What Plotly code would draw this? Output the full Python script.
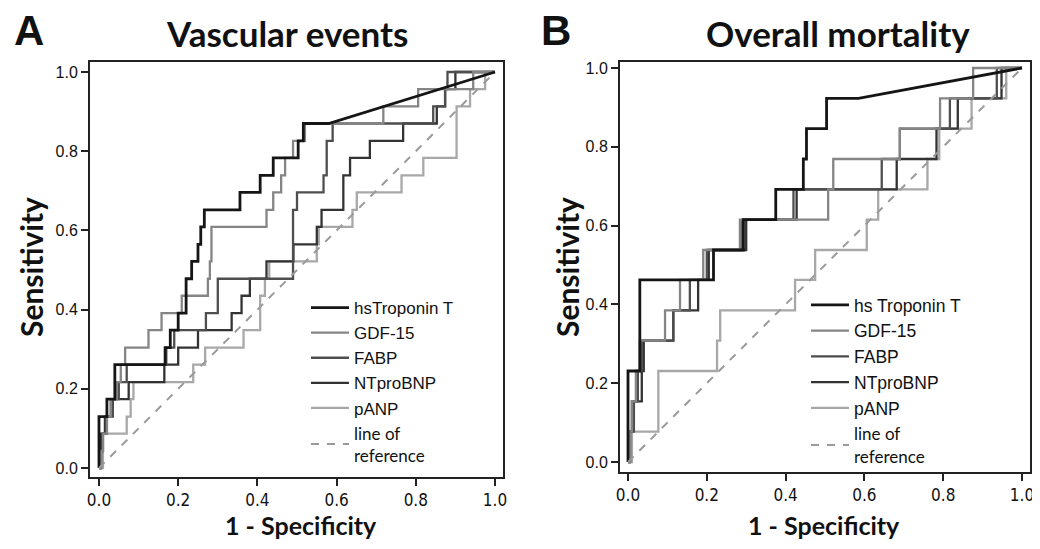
import plotly.graph_objects as go

# ---------------- data: ROC risers (1 - specificity where curve rises, sensitivity reached) ----
# Panel A: Vascular events
a_tnt_fpr = [0.0, 0.02, 0.04, 0.167, 0.18, 0.20, 0.22, 0.234, 0.25, 0.257, 0.266, 0.356, 0.407, 0.44, 0.503, 0.516, 0.58]
a_tnt_sens = [0.130, 0.174, 0.261, 0.304, 0.348, 0.391, 0.478, 0.522, 0.565, 0.609, 0.652, 0.696, 0.739, 0.783, 0.826, 0.870, 0.870]

a_gdf_fpr = [0.005, 0.01, 0.02, 0.03, 0.045, 0.055, 0.066, 0.125, 0.158, 0.209, 0.275, 0.28, 0.284, 0.423, 0.44, 0.46, 0.47, 0.49, 0.52, 0.718, 0.806, 0.945]
a_gdf_sens = [0.043, 0.087, 0.130, 0.174, 0.217, 0.261, 0.304, 0.348, 0.391, 0.435, 0.478, 0.522, 0.609, 0.652, 0.696, 0.739, 0.783, 0.826, 0.870, 0.913, 0.957, 1.0]

a_fabp_fpr = [0.005, 0.01, 0.02, 0.035, 0.05, 0.07, 0.17, 0.19, 0.27, 0.30, 0.30, 0.49, 0.50, 0.567, 0.575, 0.59, 0.844, 0.874, 0.88]
a_fabp_sens = [0.043, 0.087, 0.130, 0.174, 0.217, 0.261, 0.304, 0.348, 0.391, 0.435, 0.478, 0.652, 0.696, 0.739, 0.826, 0.870, 0.913, 0.957, 1.0]

a_ntp_fpr = [0.005, 0.015, 0.03, 0.075, 0.165, 0.20, 0.25, 0.335, 0.36, 0.381, 0.423, 0.491, 0.55, 0.562, 0.617, 0.617, 0.634, 0.684, 0.768, 0.853, 0.874, 0.90]
a_ntp_sens = [0.087, 0.130, 0.174, 0.217, 0.261, 0.304, 0.348, 0.391, 0.435, 0.478, 0.522, 0.565, 0.609, 0.652, 0.696, 0.739, 0.783, 0.826, 0.870, 0.913, 0.957, 1.0]

a_panp_fpr = [0.01, 0.07, 0.08, 0.087, 0.238, 0.268, 0.365, 0.407, 0.419, 0.43, 0.55, 0.555, 0.64, 0.651, 0.764, 0.819, 0.903, 0.937, 0.975]
a_panp_sens = [0.087, 0.130, 0.174, 0.217, 0.261, 0.304, 0.348, 0.435, 0.478, 0.522, 0.565, 0.609, 0.652, 0.696, 0.739, 0.783, 0.913, 0.957, 1.0]

# Panel B: Overall mortality
b_tnt_fpr = [0.0, 0.03, 0.03, 0.217, 0.293, 0.375, 0.445, 0.453, 0.504, 0.585]
b_tnt_sens = [0.231, 0.385, 0.462, 0.538, 0.615, 0.692, 0.769, 0.846, 0.923, 0.923]

b_gdf_fpr = [0.005, 0.01, 0.02, 0.03, 0.094, 0.132, 0.191, 0.284, 0.508, 0.521, 0.69, 0.792, 0.876]
b_gdf_sens = [0.077, 0.154, 0.231, 0.308, 0.385, 0.462, 0.538, 0.615, 0.692, 0.769, 0.846, 0.923, 1.0]

b_fabp_fpr = [0.005, 0.015, 0.025, 0.035, 0.115, 0.157, 0.20, 0.29, 0.42, 0.644, 0.69, 0.817, 0.936]
b_fabp_sens = [0.077, 0.154, 0.231, 0.308, 0.385, 0.462, 0.538, 0.615, 0.692, 0.769, 0.846, 0.923, 1.0]

b_ntp_fpr = [0.005, 0.01, 0.035, 0.04, 0.115, 0.178, 0.205, 0.30, 0.428, 0.682, 0.783, 0.837, 0.948]
b_ntp_sens = [0.077, 0.154, 0.231, 0.308, 0.385, 0.462, 0.538, 0.615, 0.692, 0.769, 0.846, 0.923, 1.0]

b_panp_fpr = [0.01, 0.077, 0.077, 0.226, 0.234, 0.424, 0.475, 0.606, 0.635, 0.76, 0.79, 0.872, 0.96]
b_panp_sens = [0.077, 0.154, 0.231, 0.308, 0.385, 0.462, 0.538, 0.615, 0.692, 0.769, 0.846, 0.923, 1.0]

ref_line = [0.0, 1.0]
tick_vals = [0.0, 0.2, 0.4, 0.6, 0.8, 1.0]
tick_text = ["0.0", "0.2", "0.4", "0.6", "0.8", "1.0"]

names_a = ["hsTroponin T", "GDF-15", "FABP", "NTproBNP", "pANP"]
names_b = ["hs Troponin T", "GDF-15", "FABP", "NTproBNP", "pANP"]
ref_name = "line of<br>reference"


def roc_path(fpr, sens, diagonal_end=False):
    xs, ys = [0.0], [0.0]
    for f, s in zip(fpr, sens):
        if f != xs[-1]:
            xs.append(f)
            ys.append(ys[-1])
        xs.append(f)
        ys.append(s)
    if diagonal_end or xs[-1] < 1.0:
        xs.append(1.0)
        ys.append(1.0)
    return xs, ys


styles = [
    dict(color="#151515", width=2.8),
    dict(color="#858585", width=2.3),
    dict(color="#4e4e4e", width=2.3),
    dict(color="#333333", width=2.3),
    dict(color="#a8a8a8", width=2.3),
]

fig = go.Figure()

panels = [
    ("x", "y", "legend", names_a,
     [(a_tnt_fpr, a_tnt_sens, True), (a_gdf_fpr, a_gdf_sens, False), (a_fabp_fpr, a_fabp_sens, False),
      (a_ntp_fpr, a_ntp_sens, False), (a_panp_fpr, a_panp_sens, False)]),
    ("x2", "y2", "legend2", names_b,
     [(b_tnt_fpr, b_tnt_sens, True), (b_gdf_fpr, b_gdf_sens, False), (b_fabp_fpr, b_fabp_sens, False),
      (b_ntp_fpr, b_ntp_sens, False), (b_panp_fpr, b_panp_sens, False)]),
]

for xa, ya, lg, names, curves in panels:
    for i in range(len(curves) - 1, -1, -1):
        f, s, d = curves[i]
        xs, ys = roc_path(f, s, d)
        fig.add_trace(go.Scatter(x=xs, y=ys, mode="lines", name=names[i], line=styles[i],
                                 xaxis=xa, yaxis=ya, legend=lg, legendrank=i + 1))
    fig.add_trace(go.Scatter(x=ref_line, y=ref_line, mode="lines",
                             name='<span style="font-family:Lato;font-size:17px">' + ref_name + '</span>',
                             line=dict(color="#9a9a9a", width=2, dash="8px,8px"),
                             xaxis=xa, yaxis=ya, legend=lg, legendrank=10))

# The page body has an 8px margin, so the figure is drawn 8px right/down of the window corner.
OFF = 8
W, H = 1040 - OFF, 549 - 2 * OFF


def px_x(p):
    return (p - OFF) / W


def px_y(p):
    return 1 - (p - OFF) / H


axis_common = dict(showline=True, linecolor="#222", linewidth=2, mirror=True, ticks="outside",
                   ticklen=7, tickwidth=2, tickcolor="#222", showgrid=False, zeroline=False,
                   tickvals=tick_vals, ticktext=tick_text, automargin=False)

xfont = dict(family="Liberation Sans Narrow, DejaVu Sans Condensed, Arial Narrow, sans-serif", size=17, color="#111")
yfont = dict(family="Liberation Sans, Arial, sans-serif", size=16, color="#111")

fig.update_layout(
    width=W, height=H, margin=dict(l=0, r=0, t=0, b=0, pad=0, autoexpand=False),
    paper_bgcolor="white", plot_bgcolor="white",
    xaxis=dict(domain=[px_x(90), px_x(503)], range=[-0.0227, 1.0202], anchor="y", tickfont=xfont, **axis_common),
    yaxis=dict(domain=[px_y(477), px_y(62)], range=[-0.0227, 1.0253], anchor="x", tickfont=yfont, **axis_common),
    xaxis2=dict(domain=[px_x(620), px_x(1030)], range=[-0.0203, 1.0203], anchor="y2", tickfont=xfont, **axis_common),
    yaxis2=dict(domain=[px_y(472), px_y(62)], range=[-0.0254, 1.0152], anchor="x2", tickfont=yfont, **axis_common),
    legend=dict(x=px_x(306), y=px_y(290), xanchor="left", yanchor="top", bgcolor="rgba(0,0,0,0)",
                font=dict(family="Liberation Sans, Arial, sans-serif", size=17, color="#111"),
                itemwidth=38, tracegroupgap=0, traceorder="normal"),
    legend2=dict(x=px_x(806), y=px_y(287), xanchor="left", yanchor="top", bgcolor="rgba(0,0,0,0)",
                 font=dict(family="Liberation Sans, Arial, sans-serif", size=17.5, color="#111"),
                 itemwidth=38, tracegroupgap=0, traceorder="normal"),
    showlegend=True,
)

title_font = dict(family="Lato, Open Sans, sans-serif", size=35, color="#111")
letter_font = dict(family="Liberation Sans, Arial, sans-serif", size=42, color="#111")
axis_title_font = dict(family="Lato, Open Sans, sans-serif", size=25, color="#111")
ylab_font = dict(family="Lato, Open Sans, sans-serif", size=30, color="#111")

annots = [
    dict(text="<b>A</b>", x=px_x(29), y=px_y(31), font=letter_font),
    dict(text="<b>Vascular events</b>", x=px_x(287), y=px_y(33), font=title_font),
    dict(text="<b>B</b>", x=px_x(556), y=px_y(31), font=letter_font),
    dict(text="<b>Overall mortality</b>", x=px_x(838), y=px_y(33), font=title_font),
    dict(text="<b>Sensitivity</b>", x=px_x(31), y=px_y(267), font=ylab_font, textangle=-90),
    dict(text="<b>Sensitivity</b>", x=px_x(567), y=px_y(267), font=ylab_font, textangle=-90),
    dict(text="<b>1 - Specificity</b>", x=px_x(301), y=px_y(525), font=axis_title_font),
    dict(text="<b>1 - Specificity</b>", x=px_x(824), y=px_y(525), font=axis_title_font),
]
for a in annots:
    fig.add_annotation(xref="paper", yref="paper", showarrow=False, xanchor="center", yanchor="middle", **a)

fig.write_html("out.html")
